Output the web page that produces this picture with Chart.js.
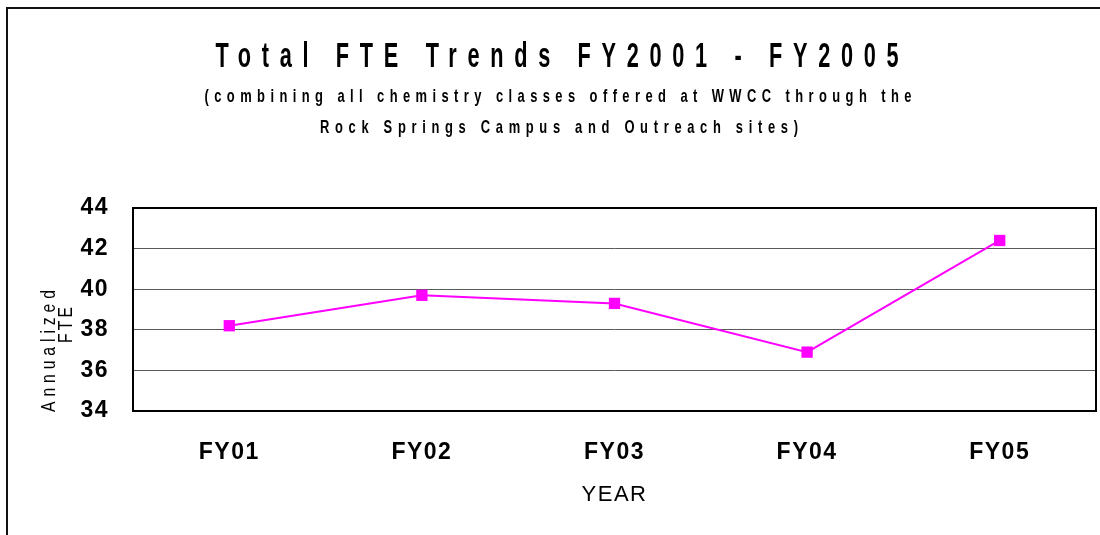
<!DOCTYPE html>
<html>
<head>
<meta charset="utf-8">
<script src="https://cdn.jsdelivr.net/npm/chart.js@4.4.1/dist/chart.umd.min.js"></script>
<style>
  html, body { margin: 0; padding: 0; background: #fff; overflow: hidden; }
  #wrap { position: relative; width: 1100px; height: 535px; }
  #frame { position: absolute; left: 6px; top: 7px; width: 1200px; height: 600px;
           border-left: 2px solid #111; border-top: 2px solid #111; pointer-events: none; }
</style>
</head>
<body>
<div id="wrap">
  <canvas id="lineChart"></canvas>
  <div id="frame"></div>
</div>
<script>
// chart data
const years = ["FY01", "FY02", "FY03", "FY04", "FY05"];
const fte = [38.2, 39.7, 39.3, 36.9, 42.4];
const yTicks = [34, 36, 38, 40, 42, 44];

const titleText = "Total FTE Trends FY2001 - FY2005";
const subtitleLines = [
  "(combining all chemistry classes offered at WWCC through the",
  "Rock Springs Campus and Outreach sites)",
];
const yTitleLines = ["Annualized", "FTE"];
const xTitle = "YEAR";

const FONT = "'Liberation Sans', Arial, sans-serif";

// draws text centred on cx, squeezed by sx and spaced out so it fills width w
function spacedText(ctx, text, cx, baseY, font, w, sx, rot) {
  ctx.save();
  ctx.font = font;
  ctx.letterSpacing = "0px";
  const natural = ctx.measureText(text).width;
  const sp = Math.max(0, (w / sx - natural) / (text.length - 1));
  ctx.letterSpacing = sp + "px";
  ctx.translate(cx, baseY);
  if (rot) ctx.rotate(rot);
  ctx.scale(sx, 1);
  ctx.textAlign = "left";
  ctx.textBaseline = rot ? "middle" : "alphabetic";
  ctx.fillStyle = "#000";
  ctx.fillText(text, -(natural + sp * (text.length - 1)) / 2, 0);
  ctx.restore();
}

const headings = {
  id: "headings",
  beforeDraw(chart) {
    chart.ctx.letterSpacing = "1.5px";
  },
  afterDraw(chart) {
    const ctx = chart.ctx;
    ctx.letterSpacing = "0px";
    spacedText(ctx, titleText, 557, 67, "bold 35px " + FONT, 683, 0.62);
    spacedText(ctx, subtitleLines[0], 558, 102, "bold 19px " + FONT, 707, 0.68);
    spacedText(ctx, subtitleLines[1], 559, 133, "bold 19px " + FONT, 478, 0.68);
    spacedText(ctx, yTitleLines[0], 49, 351, "21px " + FONT, 122, 0.75, -Math.PI / 2);
    spacedText(ctx, yTitleLines[1], 66, 325, "21px " + FONT, 36, 0.75, -Math.PI / 2);
  },
};

const plotBorder = {
  id: "plotBorder",
  beforeDatasetsDraw(chart) {
    const a = chart.chartArea;
    const ctx = chart.ctx;
    ctx.save();
    ctx.strokeStyle = "#000";
    ctx.lineWidth = 2;
    ctx.strokeRect(a.left, a.top, a.right - a.left, a.bottom - a.top);
    ctx.restore();
  },
};

const configuration = {
  type: "line",
  data: {
    labels: years,
    datasets: [
      {
        label: "Annualized FTE",
        data: fte,
        borderColor: "#ff00ff",
        backgroundColor: "#ff00ff",
        borderWidth: 2,
        pointStyle: "rect",
        pointRadius: 8,
        pointHoverRadius: 8,
        pointBorderWidth: 0,
        tension: 0,
      },
    ],
  },
  options: {
    responsive: true,
    maintainAspectRatio: false,
    animation: false,
    layout: { autoPadding: false, padding: { top: 208, left: 0, right: 4, bottom: 0 } },
    plugins: {
      legend: { display: false },
      tooltip: { enabled: false },
    },
    scales: {
      x: {
        offset: true,
        grid: { display: false, drawTicks: false },
        border: { display: false },
        ticks: {
          color: "#000",
          padding: 28,
          font: { family: FONT, size: 23, weight: "bold" },
        },
        title: {
          display: true,
          text: xTitle,
          color: "#000",
          padding: { top: 0, bottom: 27 },
          font: { family: FONT, size: 22 },
        },
        afterFit(scale) {
          scale.height = 124;
        },
      },
      y: {
        min: yTicks[0],
        max: yTicks[yTicks.length - 1],
        afterBuildTicks(scale) {
          scale.ticks = yTicks.map((v) => ({ value: v }));
        },
        grid: {
          drawTicks: false,
          color: "#5a5a5a",
          lineWidth: 1,
        },
        border: { display: false },
        ticks: {
          color: "#000",
          padding: 24,
          font: { family: FONT, size: 23, weight: "bold" },
        },
        afterFit(scale) {
          scale.width = 133;
        },
      },
    },
  },
  plugins: [headings, plotBorder],
};

var lineChart = new Chart(document.getElementById("lineChart"), configuration);
</script>
</body>
</html>
